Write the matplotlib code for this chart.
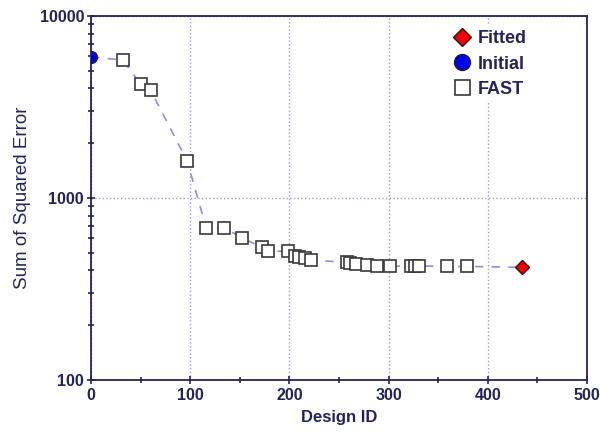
import matplotlib.pyplot as plt
from matplotlib.ticker import FixedLocator, NullFormatter

plt.rcParams['font.family'] = ['Liberation Sans', 'DejaVu Sans']

navy = '#23235e'

# data
initial_x = [0]
initial_y = [5950]

fast_x = [32, 50, 60, 97, 116, 134, 152, 172, 178, 199, 206, 210, 216, 222,
          258, 261, 267, 278, 288, 301, 323, 327, 331, 359, 379]
fast_y = [5730, 4230, 3920, 1595, 687, 687, 605, 536, 509, 511, 480, 476, 467, 456,
          443, 438, 432, 427, 425, 421, 423, 423, 423, 421, 421]

fitted_x = [434]
fitted_y = [416]

# path joining all designs in order
path_x = initial_x + fast_x + fitted_x
path_y = initial_y + fast_y + fitted_y

fig = plt.figure(figsize=(6.08, 4.33), dpi=100)
ax = fig.add_axes([0.1497, 0.1224, 0.8158, 0.8406])

ax.plot(path_x, path_y, '--', color='#8e8ee0', lw=1.2, dashes=(5, 5), zorder=1)
ax.plot(fast_x, fast_y, 's', ms=8, mfc='white', mec='#3a3a3a', mew=1.2,
        ls='none', label='FAST', zorder=3)
ax.plot(initial_x, initial_y, 'o', ms=8.5, mfc='#0000ee', mec='#1a1a40', mew=1,
        ls='none', label='Initial', zorder=4)
ax.plot(fitted_x, fitted_y, 'D', ms=7, mfc='#ee0000', mec='#3a1010', mew=1,
        ls='none', label='Fitted', zorder=4)

ax.set_yscale('log')
ax.set_xlim(0, 500)
ax.set_ylim(100, 10000)
ax.set_xticks([0, 100, 200, 300, 400, 500])
ax.xaxis.set_minor_locator(FixedLocator([50, 150, 250, 350, 450]))
ax.set_yticks([100, 1000, 10000])
ax.set_yticklabels(['100', '1000', '10000'])
ax.yaxis.set_minor_formatter(NullFormatter())

ax.grid(True, which='major', ls=':', color='#9a9ad8', lw=1)
ax.set_axisbelow(True)

for s in ax.spines.values():
    s.set_color(navy)
    s.set_linewidth(1.3)
ax.tick_params(which='both', direction='inout', colors=navy, labelsize=11.5,
               length=6, width=1.2)
ax.tick_params(which='minor', length=5)
ax.tick_params(axis='x', pad=3)
ax.tick_params(axis='y', pad=2)
for lab in ax.get_xticklabels() + ax.get_yticklabels():
    lab.set_fontweight('bold')
    lab.set_color(navy)

ax.set_xlabel('Design ID', fontsize=12, fontweight='bold', color=navy, labelpad=5)
ax.set_ylabel('Sum of Squared Error', fontsize=13.5, color=navy, labelpad=6)

h, l = ax.get_legend_handles_labels()
order = [2, 1, 0]
leg = ax.legend([h[i] for i in order], [l[i] for i in order], loc='upper right',
                bbox_to_anchor=(0.907, 1.0), fontsize=13, frameon=True,
                framealpha=1, edgecolor='none', handletextpad=0.25,
                labelspacing=0.45, borderpad=0.3, handlelength=1.2,
                markerscale=1.35)
for t in leg.get_texts():
    t.set_color(navy)
    t.set_fontweight('bold')

fig.savefig('out.png', dpi=100)
